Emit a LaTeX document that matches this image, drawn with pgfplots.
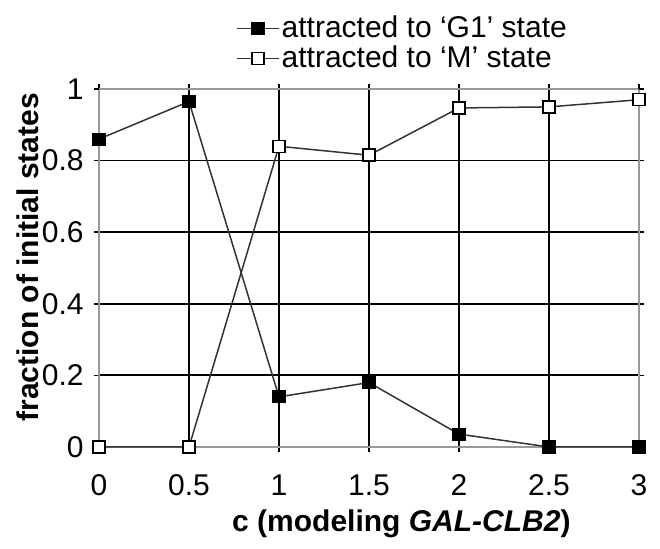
\documentclass[border=0pt]{standalone}
\usepackage{pgfplots}
\pgfplotsset{compat=1.18}
\usepackage{fontspec}
\setmainfont{Liberation Sans}
\begin{document}
\fontsize{15pt}{18pt}\selectfont
\begin{tikzpicture}
\begin{axis}[
  at={(0pt,0pt)}, anchor=origin,
  scale only axis,
  width=270pt, height=179pt,
  xmin=0, xmax=3, ymin=0, ymax=1,
  xtick={0,0.5,1,1.5,2,2.5},
  extra x ticks={3},
  extra x tick style={grid=none},
  ytick={0,0.2,0.4,0.6,0.8},
  extra y ticks={1},
  extra y tick style={grid=none},
  grid=major,
  major grid style={black, line width=0.9pt},
  axis line style={draw=gray!80, line width=0.8pt},
  tick align=outside,
  major tick length=2.5pt,
  tick style={black, line width=0.8pt},
  /pgf/number format/assume math mode=true,
  ticklabel style={font=\fontsize{15pt}{18pt}\selectfont},
  xticklabel style={yshift=-6pt},
  xlabel={\textbf{c (modeling \textit{GAL-CLB2})}},
  ylabel={\textbf{fraction of initial states}},
  xlabel style={at={(axis description cs:0.56,-0.215)}, anchor=center, font=\fontsize{15pt}{18pt}\selectfont},
  ylabel style={at={(axis description cs:-0.1315,0.53)}, anchor=center, rotate=0, font=\fontsize{15pt}{18pt}\selectfont},
  clip=false,
  legend cell align=left,
  legend style={draw=none, fill=none, at={(axis description cs:0.562,1.127)}, anchor=center,
    inner sep=0pt, row sep=0pt,
    nodes={inner sep=1pt, text height=10.8pt, text depth=2pt},
    font=\fontsize{15pt}{18pt}\selectfont},
  legend image code/.code={%
    \draw[mark repeat=2, mark phase=2, #1] plot coordinates {(0pt,0pt) (10.5pt,0pt) (21pt,0pt)};},
]
\addplot[color=black!80, line width=0.75pt, mark=square*, mark size=3pt,
  mark options={fill=black, draw=black, line width=0.6pt, solid}]
  coordinates {(0,0.86) (0.5,0.965) (1,0.14) (1.5,0.18) (2,0.036) (2.5,0) (3,0)};
\addlegendentry{attracted to ‘G1’ state}
\addplot[color=black!80, line width=0.75pt, mark=square*, mark size=3pt,
  mark options={fill=white, draw=black, line width=0.75pt, solid}]
  coordinates {(0,0) (0.5,0) (1,0.84) (1.5,0.815) (2,0.947) (2.5,0.95) (3,0.97)};
\addlegendentry{attracted to ‘M’ state}
\end{axis}
\path[use as bounding box] (-49.5pt,-45pt) rectangle (280.5pt,223.5pt);
\end{tikzpicture}
\end{document}
